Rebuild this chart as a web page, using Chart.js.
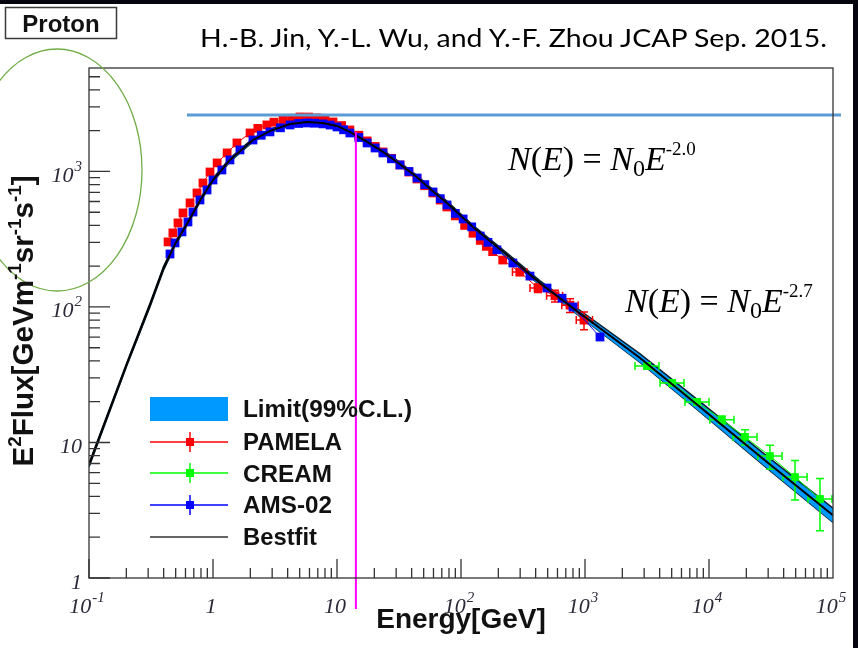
<!DOCTYPE html>
<html>
<head>
<meta charset="utf-8">
<script src="https://cdn.jsdelivr.net/npm/chart.js@4.4.1/dist/chart.umd.min.js"></script>
<style>
  html, body { margin: 0; padding: 0; background: #fff; }
  #wrap { position: relative; width: 858px; height: 648px; overflow: hidden; background: #fff; }
  #myProtonChart { position: absolute; left: 0; top: 0; }
  #overlay { position: absolute; left: 0; top: 0; pointer-events: none; }
</style>
</head>
<body>
<div id="wrap">
  <canvas id="myProtonChart" width="858" height="648"></canvas>
  <svg id="overlay" width="858" height="648" xmlns="http://www.w3.org/2000/svg">
    <rect x="0" y="0" width="858" height="4" fill="#05050f"/>
    <rect x="853" y="0" width="5" height="648" fill="#05050f"/>
    <ellipse cx="57" cy="170" rx="85" ry="121" fill="none" stroke="#70AD47" stroke-width="1.3"/>
    <rect x="5.5" y="7.5" width="111" height="31" fill="#fff" stroke="#3a3a3a" stroke-width="1.5"/>
    <text x="61" y="32" text-anchor="middle" font-family="Liberation Sans, Arial" font-weight="bold" font-size="24" fill="#111">Proton</text>
    <text x="200" y="47" font-family="Lato, 'Open Sans'" font-size="25" textLength="627" lengthAdjust="spacingAndGlyphs" fill="#000">H.-B. Jin, Y.-L. Wu, and Y.-F. Zhou JCAP Sep. 2015.</text>

    <text transform="translate(33,321) rotate(-90)" text-anchor="middle" font-family="Liberation Sans, Arial" font-weight="bold" font-size="30" fill="#111" textLength="291" lengthAdjust="spacingAndGlyphs">E<tspan font-size="19" dy="-12">2</tspan><tspan dy="12">Flux[GeVm</tspan><tspan font-size="19" dy="-12">-1</tspan><tspan dy="12">sr</tspan><tspan font-size="19" dy="-12">-1</tspan><tspan dy="12">s</tspan><tspan font-size="19" dy="-12">-1</tspan><tspan dy="12">]</tspan></text>

    <text x="508" y="170" font-family="Liberation Serif, Times New Roman" font-size="34" fill="#000"><tspan font-style="italic">N</tspan>(<tspan font-style="italic">E</tspan>) = <tspan font-style="italic">N</tspan><tspan font-size="24" dy="6">0</tspan><tspan font-style="italic" dy="-6">E</tspan><tspan font-size="19" dy="-15">-2.0</tspan></text>
    <text x="625" y="312" font-family="Liberation Serif, Times New Roman" font-size="34" fill="#000"><tspan font-style="italic">N</tspan>(<tspan font-style="italic">E</tspan>) = <tspan font-style="italic">N</tspan><tspan font-size="24" dy="6">0</tspan><tspan font-style="italic" dy="-6">E</tspan><tspan font-size="19" dy="-15">-2.7</tspan></text>

    <g font-family="Liberation Sans, Arial" font-weight="bold" font-size="24" fill="#111">
      <rect x="150" y="397" width="78" height="24" fill="#0099ff"/>
      <text x="243" y="417" textLength="169" lengthAdjust="spacingAndGlyphs">Limit(99%C.L.)</text>
      <line x1="150" y1="442" x2="228" y2="442" stroke="#ff0000" stroke-width="1.5"/>
      <line x1="190" y1="432" x2="190" y2="452" stroke="#ff0000" stroke-width="1.5"/>
      <rect x="186" y="438" width="8" height="8" fill="#ff0000"/>
      <text x="243" y="450" textLength="99" lengthAdjust="spacingAndGlyphs">PAMELA</text>
      <line x1="150" y1="473" x2="228" y2="473" stroke="#00ff00" stroke-width="1.5"/>
      <line x1="190" y1="463" x2="190" y2="483" stroke="#00ff00" stroke-width="1.5"/>
      <rect x="186" y="469" width="8" height="8" fill="#00ff00"/>
      <text x="243" y="482" textLength="89" lengthAdjust="spacingAndGlyphs">CREAM</text>
      <line x1="150" y1="505" x2="228" y2="505" stroke="#0000ff" stroke-width="1.5"/>
      <line x1="190" y1="495" x2="190" y2="515" stroke="#0000ff" stroke-width="1.5"/>
      <rect x="186" y="501" width="8" height="8" fill="#0000ff"/>
      <text x="243" y="513" textLength="89" lengthAdjust="spacingAndGlyphs">AMS-02</text>
      <line x1="150" y1="537" x2="228" y2="537" stroke="#333" stroke-width="1.5"/>
      <text x="243" y="545" textLength="74" lengthAdjust="spacingAndGlyphs">Bestfit</text>
    </g>
  </svg>
</div>
<script>
// energies in GeV, fluxes in E^2 Flux [GeV m^-1 sr^-1 s^-1]
const bestfitE    = [0.1, 0.2, 0.31, 0.4, 0.5, 0.63, 0.79, 1, 1.37, 2.1, 2.9, 4.2, 5.7, 7.7, 10, 12.7, 17.5, 23.5, 32, 44, 59, 77, 125, 235, 434, 800, 2780, 8460, 30000, 100000];
const bestfitFlux = [6.8, 37, 103, 194, 297, 424, 616, 865, 1216, 1707, 1991, 2244, 2318, 2280, 2168, 1958, 1652, 1393, 1136, 910, 717, 586, 389, 242, 150, 98, 42, 18.3, 7.06, 2.9];
const limitHi     = [7.0, 38, 106, 200, 306, 437, 634, 891, 1252, 1758, 2051, 2311, 2388, 2348, 2233, 2017, 1702, 1435, 1170, 937, 739, 604, 401, 250, 156, 103, 45, 20, 7.8, 3.28];
const limitLo     = [6.6, 36, 100, 188, 288, 412, 598, 840, 1181, 1657, 1933, 2179, 2250, 2214, 2105, 1901, 1604, 1352, 1103, 883, 696, 569, 378, 234, 144, 93, 39, 16.8, 6.36, 2.57];

const pamelaE    = [0.434, 0.475, 0.522, 0.573, 0.653, 0.743, 0.83, 0.946, 1.08, 1.3, 1.56, 1.99, 2.3, 2.72, 3.1, 3.67, 4.3, 5.03, 5.9, 6.9, 8.0, 9.29, 10.9, 12.7, 15, 17.5, 20.3, 23.5, 27.5, 32.2, 38, 44.2, 51, 59.4, 68, 77, 90, 107, 125, 143, 160, 180, 217, 298, 418, 573, 757, 982];
const pamelaFlux = [302, 352, 417, 494, 586, 694, 822, 991, 1156, 1370, 1623, 1923, 2080, 2204, 2310, 2400, 2470, 2524, 2520, 2484, 2420, 2318, 2180, 2024, 1850, 1680, 1530, 1393, 1250, 1117, 990, 880, 785, 694, 615, 547, 470, 400, 350, 310, 280, 256, 222, 181, 138, 121, 103, 80];
// error bars of the last five PAMELA points
const pamelaBinLo = [260, 360, 490, 650, 850];
const pamelaBinHi = [340, 480, 660, 880, 1150];
const pamelaErr   = [10, 10, 12, 12, 12];

const amsE    = [0.45, 0.494, 0.562, 0.628, 0.69, 0.785, 0.895, 1.0, 1.18, 1.37, 1.65, 2.1, 2.45, 2.88, 3.5, 4.18, 4.9, 5.73, 6.6, 7.71, 8.8, 10, 11.3, 12.7, 15, 17.5, 20.3, 23.5, 27.5, 32.2, 38, 44.2, 51, 59.4, 68, 77.1, 90, 104, 122, 143, 165, 195, 262, 360, 494, 653, 800, 1321];
const amsFlux = [246, 297, 358, 424, 502, 616, 730, 865, 1026, 1216, 1442, 1707, 1850, 1958, 2100, 2204, 2260, 2280, 2270, 2244, 2200, 2130, 2030, 1923, 1780, 1623, 1490, 1370, 1240, 1117, 1000, 895, 800, 706, 630, 566, 490, 446, 390, 334, 300, 264, 211, 169, 138, 116, 100, 60];

const creamE     = [3162, 5035, 8000, 12700, 19500, 31000, 49400, 78500];
const creamFlux  = [36.7, 27.5, 19.9, 14.7, 11.0, 7.95, 5.56, 3.83];
const creamBinLo = [2530, 4030, 6400, 10160, 15600, 24800, 39500, 62800];
const creamBinHi = [3950, 6290, 10000, 15900, 24400, 38800, 61800, 98100];
const creamErr   = [1.8, 1.3, 1.0, 1.0, 1.4, 1.6, 1.8, 1.6];

// magenta cut and the blue horizontal mark drawn over the plot
const cutE = [14.2, 14.2];
const cutFlux = [1955, 0.59];
const capE = [0.617, 116000];
const capFlux = [2612, 2612];

const xTickVals = [0.1, 1, 10, 100, 1000, 10000, 100000];
const xTickBase = ['10', '1', '10', '10', '10', '10', '10'];
const xTickExp  = ['-1', '', '', '2', '3', '4', '5'];
const yTickVals = [1, 10, 100, 1000];
const yTickBase = ['1', '10', '10', '10'];
const yTickExp  = ['', '', '2', '3'];

function pts(xs, ys) {
  return xs.map((v, i) => ({x: v, y: ys[i]}));
}

function bars(xs, ys, lo, hi, err) {
  return xs.map((v, i) => ({x: v, y: ys[i], xlo: lo[i], xhi: hi[i], err: err[i]}));
}

const errorBarPlugin = {
  id: 'errorBars',
  afterDatasetDraw(chart, args) {
    const ds = chart.data.datasets[args.index];
    if (!ds.errorBars) return;
    const {ctx, scales: {x, y}} = chart;
    ctx.save();
    ctx.strokeStyle = ds.borderColor;
    ctx.lineWidth = 1.5;
    ctx.beginPath();
    ds.errorBars.forEach(b => {
      const px = x.getPixelForValue(b.x), py = y.getPixelForValue(b.y);
      const x0 = x.getPixelForValue(b.xlo), x1 = x.getPixelForValue(b.xhi);
      const y0 = y.getPixelForValue(b.y - b.err), y1 = y.getPixelForValue(b.y + b.err);
      ctx.moveTo(x0, py); ctx.lineTo(x1, py);
      ctx.moveTo(x0, py - 4); ctx.lineTo(x0, py + 4);
      ctx.moveTo(x1, py - 4); ctx.lineTo(x1, py + 4);
      ctx.moveTo(px, y0); ctx.lineTo(px, y1);
      ctx.moveTo(px - 4, y0); ctx.lineTo(px + 4, y0);
      ctx.moveTo(px - 4, y1); ctx.lineTo(px + 4, y1);
    });
    ctx.stroke();
    ctx.restore();
  }
};

// ROOT style frame, inward ticks and 10^n labels
const frameTicksPlugin = {
  id: 'frameTicks',
  afterDraw(chart) {
    const {ctx, chartArea: a, scales: {x, y}} = chart;
    ctx.save();
    ctx.strokeStyle = '#333';
    ctx.lineWidth = 1.3;
    ctx.strokeRect(a.left, a.top, a.right - a.left, a.bottom - a.top);
    ctx.beginPath();
    for (let e = -1; e <= 4; e++) {
      for (let k = 1; k <= 9; k++) {
        const px = x.getPixelForValue(k * Math.pow(10, e));
        const len = k === 1 ? 19 : 10;
        ctx.moveTo(px, a.bottom); ctx.lineTo(px, a.bottom - len);
      }
    }
    for (let e = 0; e <= 3; e++) {
      for (let k = 1; k <= 9; k++) {
        const v = k * Math.pow(10, e);
        if (v > y.max) continue;
        const py = y.getPixelForValue(v);
        const len = k === 1 ? 21 : 11;
        ctx.moveTo(a.left, py); ctx.lineTo(a.left + len, py);
      }
    }
    ctx.stroke();

    const baseFont = "italic 22px 'Liberation Serif', 'Times New Roman', serif";
    const expFont = "italic 15px 'Liberation Serif', 'Times New Roman', serif";
    ctx.fillStyle = '#2a2a38';
    ctx.textBaseline = 'alphabetic';
    ctx.textAlign = 'left';
    function label(base, exp, anchor, baseline, centred) {
      ctx.font = baseFont;
      const wb = ctx.measureText(base).width;
      ctx.font = expFont;
      const we = exp ? ctx.measureText(exp).width + 1 : 0;
      const left = centred ? anchor - (wb + we) / 2 : anchor - wb - we;
      ctx.font = baseFont;
      ctx.fillText(base, left, baseline);
      if (exp) {
        ctx.font = expFont;
        ctx.fillText(exp, left + wb + 1, baseline - 11);
      }
    }
    xTickVals.forEach((v, i) => label(xTickBase[i], xTickExp[i], x.getPixelForValue(v) - 2, a.bottom + 35, true));
    yTickVals.forEach((v, i) => label(yTickBase[i], yTickExp[i], a.left - 7, y.getPixelForValue(v) + 10.5, false));
    ctx.restore();
  }
};

const titleFamily = "'Liberation Sans', Arial, sans-serif";

let myProtonChart = document.getElementById('myProtonChart').getContext('2d');
let protonChart = new Chart(myProtonChart, {
  type: 'line',
  data: {
    datasets: [
      {label: 'LimitHi', data: pts(bestfitE, limitHi), borderColor: '#0a2233', borderWidth: 1.5,
       backgroundColor: 'rgb(0,153,255)', fill: '+1', pointRadius: 0, order: 10},
      {label: 'LimitLo', data: pts(bestfitE, limitLo), borderColor: '#0a2233', borderWidth: 1.5,
       fill: false, pointRadius: 0, order: 10},
      {label: 'PAMELA', data: pts(pamelaE, pamelaFlux), borderColor: '#ff0000', backgroundColor: '#ff0000',
       borderWidth: 1, pointStyle: 'rect', pointRadius: 6.2, pointBorderWidth: 0, order: 4,
       errorBars: bars(pamelaE.slice(-5), pamelaFlux.slice(-5), pamelaBinLo, pamelaBinHi, pamelaErr)},
      {label: 'AMS-02', data: pts(amsE, amsFlux), borderColor: '#0000ff', backgroundColor: '#0000ff',
       borderWidth: 1, pointStyle: 'rect', pointRadius: 6.2, pointBorderWidth: 0, order: 3},
      {label: 'CREAM', data: pts(creamE, creamFlux), borderColor: '#00ff00', backgroundColor: '#00ff00',
       borderWidth: 1, pointStyle: 'rect', pointRadius: 5.5, pointBorderWidth: 0, order: 3,
       errorBars: bars(creamE, creamFlux, creamBinLo, creamBinHi, creamErr)},
      {label: 'Bestfit', data: pts(bestfitE, bestfitFlux), borderColor: '#000', borderWidth: 2,
       pointRadius: 0, order: 1},
      {label: 'cut', data: pts(cutE, cutFlux), borderColor: '#ff00ff', borderWidth: 2,
       pointRadius: 0, clip: false, order: 0},
      {label: 'mark', data: pts(capE, capFlux), borderColor: '#5b9bd5', borderWidth: 3,
       pointRadius: 0, clip: false, order: 0}
    ]
  },
  options: {
    responsive: false,
    animation: false,
    events: [],
    layout: {padding: {top: 68, right: 25, left: 0, bottom: 0}},
    plugins: {legend: {display: false}, tooltip: {enabled: false}},
    scales: {
      x: {
        type: 'logarithmic', min: 0.1, max: 100000,
        grid: {display: false, drawTicks: false}, border: {display: false},
        afterBuildTicks: s => { s.ticks = xTickVals.map(v => ({value: v})); },
        afterFit: s => { s.height = 70; },
        ticks: {display: false},
        title: {display: true, text: 'Energy[GeV]', color: '#111',
                font: {family: titleFamily, weight: 'bold', size: 28}, padding: {top: 0, bottom: 11}}
      },
      y: {
        type: 'logarithmic', min: 1, max: 5800,
        grid: {display: false, drawTicks: false}, border: {display: false},
        afterBuildTicks: s => { s.ticks = yTickVals.map(v => ({value: v})); },
        afterFit: s => { s.width = 89; },
        ticks: {display: false}
      }
    }
  },
  plugins: [errorBarPlugin, frameTicksPlugin]
});
</script>
</body>
</html>
